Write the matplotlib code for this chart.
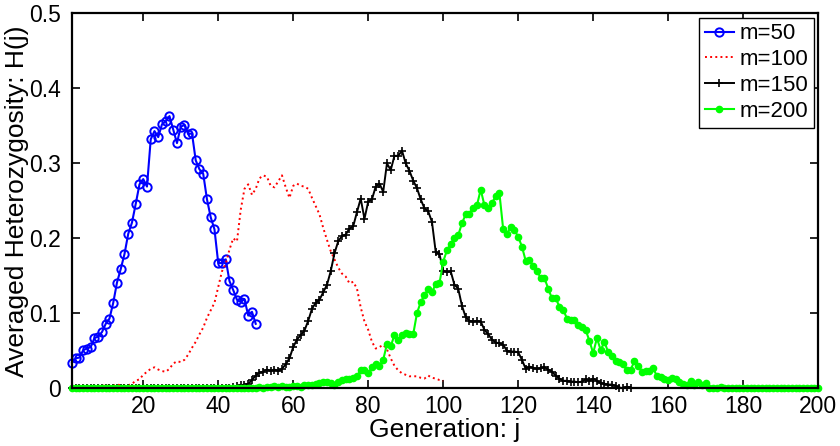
import matplotlib
matplotlib.use("Agg")
import matplotlib.pyplot as plt
import numpy as np

plt.rcParams['font.family'] = ['Liberation Sans', 'DejaVu Sans']

# ---- data ----
h_m50 = [0.034, 0.040, 0.041, 0.051, 0.053, 0.055, 0.067, 0.069, 0.075, 0.086,
         0.093, 0.114, 0.141, 0.159, 0.179, 0.206, 0.221, 0.246, 0.272, 0.279,
         0.269, 0.332, 0.343, 0.335, 0.352, 0.356, 0.363, 0.345, 0.327, 0.349,
         0.351, 0.339, 0.340, 0.304, 0.292, 0.286, 0.252, 0.228, 0.212, 0.167,
         0.167, 0.172, 0.143, 0.131, 0.118, 0.115, 0.119, 0.097, 0.102, 0.086]

h_m100 = [0.000, 0.000, 0.000, 0.000, 0.001, 0.001, 0.002, 0.003, 0.003, 0.004,
          0.004, 0.004, 0.005, 0.004, 0.004, 0.004, 0.006, 0.010, 0.012, 0.018,
          0.022, 0.026, 0.028, 0.025, 0.023, 0.022, 0.026, 0.033, 0.036, 0.035,
          0.038, 0.045, 0.054, 0.062, 0.072, 0.081, 0.094, 0.104, 0.114, 0.135,
          0.156, 0.166, 0.185, 0.200, 0.196, 0.238, 0.266, 0.272, 0.258, 0.266,
          0.280, 0.284, 0.282, 0.270, 0.268, 0.276, 0.284, 0.268, 0.254, 0.270,
          0.273, 0.270, 0.269, 0.266, 0.254, 0.243, 0.232, 0.214, 0.198, 0.183,
          0.172, 0.161, 0.153, 0.149, 0.140, 0.142, 0.133, 0.108, 0.089, 0.078,
          0.062, 0.053, 0.055, 0.058, 0.052, 0.040, 0.030, 0.024, 0.020, 0.018,
          0.016, 0.016, 0.016, 0.014, 0.013, 0.017, 0.014, 0.013, 0.011, 0.010]

h_m150 = [0.000, 0.000, 0.000, 0.000, 0.000, 0.000, 0.000, 0.000, 0.000, 0.000,
          0.000, 0.000, 0.000, 0.000, 0.000, 0.000, 0.000, 0.000, 0.000, 0.000,
          0.000, 0.000, 0.000, 0.000, 0.000, 0.000, 0.000, 0.000, 0.000, 0.000,
          0.000, 0.000, 0.000, 0.000, 0.000, 0.000, 0.000, 0.000, 0.000, 0.000,
          0.000, 0.000, 0.000, 0.002, 0.003, 0.004, 0.005, 0.006, 0.011, 0.017,
          0.021, 0.022, 0.025, 0.023, 0.025, 0.023, 0.026, 0.032, 0.040, 0.055,
          0.065, 0.071, 0.077, 0.090, 0.106, 0.114, 0.118, 0.128, 0.138, 0.156,
          0.180, 0.196, 0.203, 0.205, 0.213, 0.216, 0.235, 0.253, 0.226, 0.249,
          0.252, 0.269, 0.273, 0.262, 0.300, 0.291, 0.310, 0.310, 0.317, 0.300,
          0.290, 0.277, 0.267, 0.252, 0.240, 0.236, 0.222, 0.182, 0.179, 0.157,
          0.155, 0.156, 0.138, 0.133, 0.110, 0.095, 0.090, 0.089, 0.090, 0.089,
          0.078, 0.072, 0.065, 0.061, 0.060, 0.058, 0.050, 0.049, 0.049, 0.048,
          0.038, 0.026, 0.029, 0.027, 0.026, 0.027, 0.028, 0.025, 0.022, 0.017,
          0.013, 0.010, 0.010, 0.009, 0.009, 0.008, 0.009, 0.012, 0.010, 0.013,
          0.010, 0.007, 0.006, 0.005, 0.005, 0.003, 0.001, 0.000, 0.002, 0.001]

h_m200 = [0.000, 0.000, 0.000, 0.000, 0.000, 0.000, 0.000, 0.000, 0.000, 0.000,
          0.000, 0.000, 0.000, 0.000, 0.000, 0.000, 0.000, 0.000, 0.000, 0.000,
          0.000, 0.000, 0.000, 0.000, 0.000, 0.000, 0.000, 0.000, 0.000, 0.000,
          0.000, 0.000, 0.000, 0.000, 0.000, 0.000, 0.000, 0.000, 0.000, 0.000,
          0.000, 0.000, 0.000, 0.000, 0.000, 0.000, 0.000, 0.001, 0.001, 0.001,
          0.002, 0.001, 0.002, 0.002, 0.003, 0.002, 0.003, 0.002, 0.002, 0.003,
          0.003, 0.002, 0.004, 0.004, 0.004, 0.006, 0.007, 0.008, 0.009, 0.007,
          0.004, 0.009, 0.011, 0.012, 0.013, 0.014, 0.016, 0.024, 0.024, 0.020,
          0.028, 0.033, 0.030, 0.038, 0.059, 0.056, 0.071, 0.064, 0.071, 0.074,
          0.073, 0.072, 0.100, 0.115, 0.124, 0.132, 0.128, 0.139, 0.140, 0.169,
          0.184, 0.192, 0.200, 0.204, 0.220, 0.232, 0.233, 0.241, 0.244, 0.265,
          0.244, 0.240, 0.247, 0.256, 0.260, 0.212, 0.206, 0.215, 0.211, 0.202,
          0.189, 0.170, 0.171, 0.163, 0.157, 0.147, 0.147, 0.133, 0.120, 0.120,
          0.109, 0.105, 0.093, 0.091, 0.091, 0.084, 0.082, 0.078, 0.063, 0.047,
          0.067, 0.051, 0.062, 0.048, 0.043, 0.037, 0.035, 0.032, 0.024, 0.025,
          0.036, 0.030, 0.022, 0.023, 0.023, 0.027, 0.016, 0.015, 0.012, 0.011,
          0.014, 0.012, 0.009, 0.006, 0.005, 0.010, 0.005, 0.009, 0.004, 0.007,
          0.001, 0.000, 0.001, 0.002, 0.001, 0.000, 0.000, 0.000, 0.000, 0.000,
          0.000, 0.000, 0.000, 0.000, 0.000, 0.000, 0.000, 0.000, 0.000, 0.000,
          0.000, 0.000, 0.000, 0.000, 0.000, 0.000, 0.000, 0.000, 0.000, 0.000]

labels = ['m=50', 'm=100', 'm=150', 'm=200']
x_ticks = [20, 40, 60, 80, 100, 120, 140, 160, 180, 200]
y_ticks = [0, 0.1, 0.2, 0.3, 0.4, 0.5]
y_tick_labels = ['0', '0.1', '0.2', '0.3', '0.4', '0.5']

# ---- figure ----
fig = plt.figure(figsize=(8.4, 4.46), dpi=100)
ax = fig.add_axes([0.0857, 0.1294, 0.8883, 0.8406])

ax.plot(np.arange(1, len(h_m50) + 1), h_m50, '-o', color='#0000ff', lw=1.5,
        markersize=6, markerfacecolor='none', markeredgewidth=1.4,
        label=labels[0], clip_on=False)
ax.plot(np.arange(1, len(h_m100) + 1), h_m100, ':', color='#ff0000', lw=1.4,
        label=labels[1], clip_on=False)
ax.plot(np.arange(1, len(h_m150) + 1), h_m150, '-+', color='black', lw=1.4,
        markersize=6, markeredgewidth=1.2, label=labels[2], clip_on=False)
ax.plot(np.arange(1, len(h_m200) + 1), h_m200, '-', marker='.', color='#00ff00',
        lw=1.5, markersize=9, label=labels[3], clip_on=False)

ax.set_xlim(1, 200)
ax.set_ylim(0, 0.5)
ax.set_xticks(x_ticks)
ax.set_yticks(y_ticks)
ax.set_yticklabels(y_tick_labels)
ax.tick_params(direction='in', top=True, right=True, length=6, width=1.2,
               labelsize=16.5)
ax.tick_params(axis='x', pad=5)
ax.tick_params(axis='y', pad=8)
for s in ax.spines.values():
    s.set_linewidth(1.6)
    s.set_zorder(3)

ax.set_xlabel('Generation: j', fontsize=19, va='center')
ax.xaxis.set_label_coords(0.5, -0.112)
ax.set_ylabel('Averaged Heterozygosity: H(j)', fontsize=19, va='center')
ax.yaxis.set_label_coords(-0.074, 0.5)

leg = ax.legend(loc='upper right', fontsize=16, fancybox=False, framealpha=1,
                edgecolor='black', borderpad=0.25, labelspacing=0.22,
                handlelength=1.3, handletextpad=0.25, borderaxespad=0.2)
leg.get_frame().set_linewidth(1.0)

fig.savefig('out.png', dpi=100)
